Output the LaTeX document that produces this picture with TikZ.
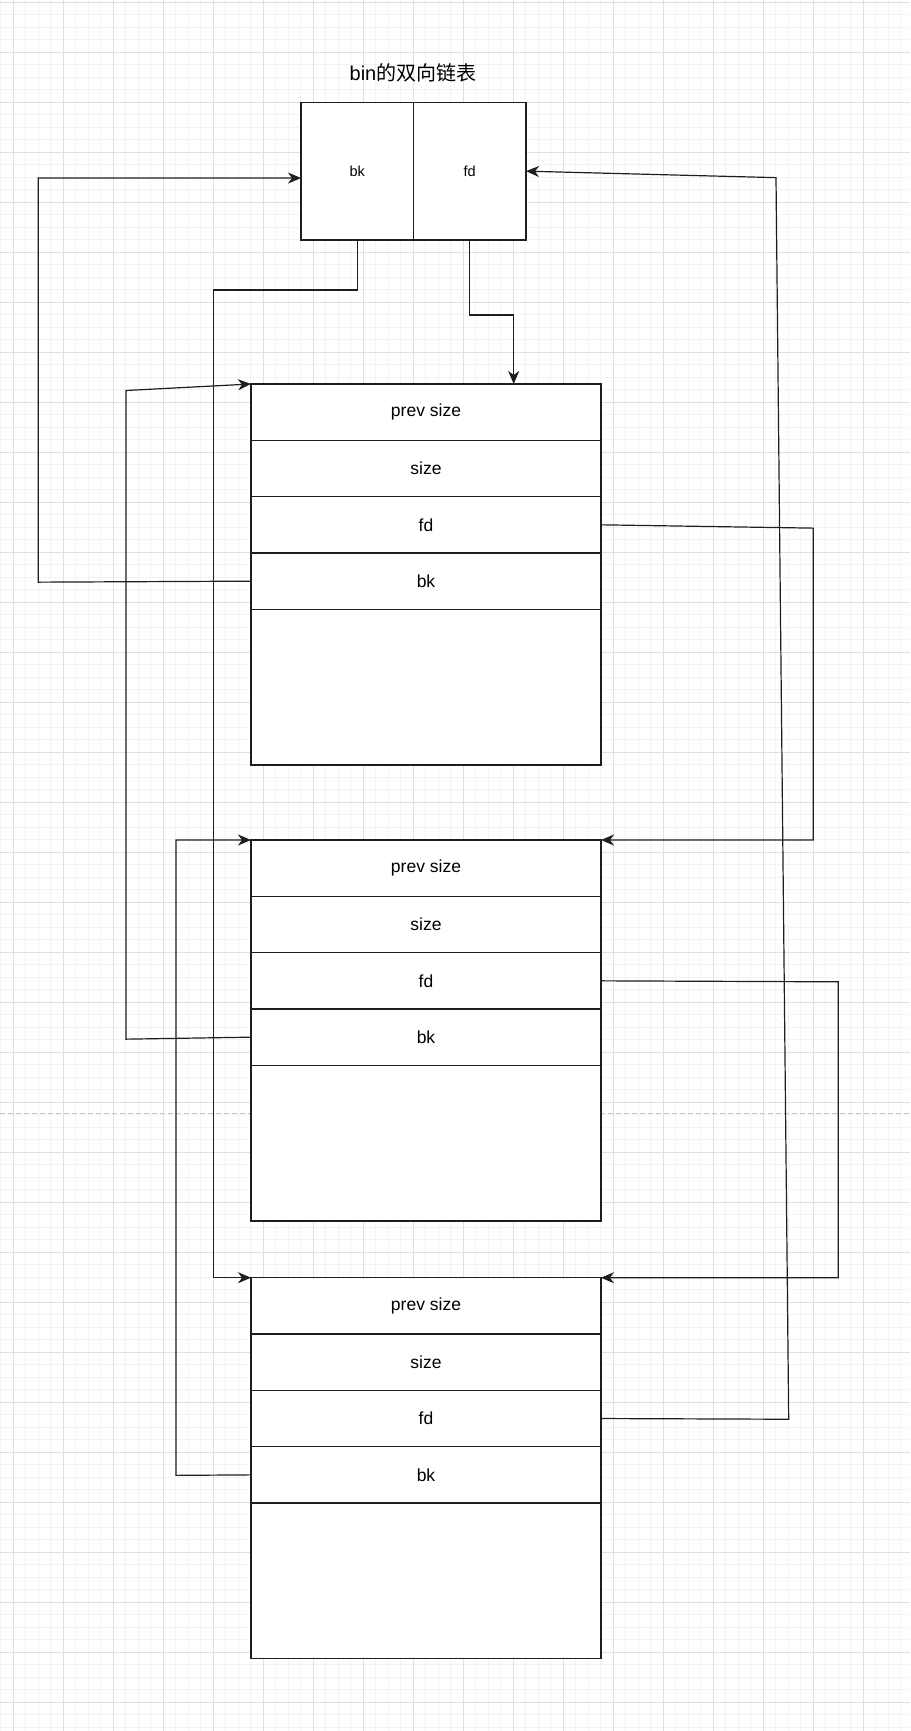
\documentclass[tikz,border=0pt]{standalone}
\usepackage{fontspec}
\setmainfont{Liberation Sans}
\newfontfamily\cjkfont{Noto Sans CJK SC}
\usetikzlibrary{arrows.meta, positioning}

\begin{document}
\begin{tikzpicture}[x=1pt, y=-1pt,
    field/.style={draw=lineColour, fill=white, line width=1.2pt, outer sep=0pt, inner sep=0pt,
        minimum width=350pt, minimum height=56.33pt, font=\fontsize{17.5}{21}\selectfont},
    chunkbody/.style={field, minimum height=155.7pt},
    binfield/.style={field, minimum width=112.5pt, minimum height=137.7pt, font=\fontsize{14.5}{17}\selectfont},
    link/.style={draw=lineColour, line width=1.2pt, -{Stealth[length=13pt,width=11pt,inset=4pt]}}]
    % Define colours
    \definecolor{lineColour}{HTML}{1E1E1E}
    \definecolor{minorGrid}{HTML}{F3F3F3}
    \definecolor{majorGrid}{HTML}{E0E0E0}
    \definecolor{pageBreak}{HTML}{C8C8C8}

    % Define page size
    \def\pageW{910}
    \def\pageH{1731}
    \useasboundingbox (0,0) rectangle (\pageW,\pageH);

    % Draw grid
    \foreach \x in {0.8,13.3,...,\pageW}
        \draw[minorGrid, line width=1pt] (\x,0) -- (\x,\pageH);
    \foreach \y in {2.3,14.8,...,\pageH}
        \draw[minorGrid, line width=1pt] (0,\y) -- (\pageW,\y);
    \foreach \x in {13.3,63.3,...,\pageW}
        \draw[majorGrid, line width=1pt] (\x,0) -- (\x,\pageH);
    \foreach \y in {2.3,52.3,...,\pageH}
        \draw[majorGrid, line width=1pt] (0,\y) -- (\pageW,\y);

    % Draw page break
    \draw[pageBreak, line width=1pt, dash pattern=on 5pt off 3pt] (0,1113.7) -- (\pageW,1113.7);

    % Title and bin
    \node (title) at (413,73) {\fontsize{20}{24}\selectfont bin\cjkfont 的双向链表};
    \node[binfield, anchor=north west] (binbk) at (301,102.3) {bk};
    \node[binfield, right=0pt of binbk] (binfd) {fd};

    % Draw the three chunks
    \foreach \c/\top in {1/384, 2/840, 3/1277.7} {
        \node[field, anchor=north west] (c\c prev) at (251,\top) {prev size};
        \node[field, below=0pt of c\c prev] (c\c size) {size};
        \node[field, below=0pt of c\c size] (c\c fd) {fd};
        \node[field, below=0pt of c\c fd] (c\c bk) {bk};
        \node[chunkbody, below=0pt of c\c bk] (c\c body) {};
    }

    % Links from the bin
    \draw[link] (binbk.south) -- ++(0,50) -| ([xshift=-37.3pt]c3prev.north west) -- (c3prev.north west);
    \draw[link] (binfd.south) -- ++(0,75) -| ([xshift=262.7pt]c1prev.north west);

    % fd links
    \draw[link] (c1fd.east) -- ++(212.3,3.3) |- (c2prev.north east);
    \draw[link] (c2fd.east) -- ++(237.3,1) |- (c3prev.north east);
    \draw[link] (c3fd.east) -- ++(187.7,0.7) -- ([xshift=250pt,yshift=-6.5pt]binfd.east) -- (binfd.east);

    % bk links
    \draw[link] (c1bk.west) -- ++(-212.7,1) |- ([yshift=-6.9pt]binbk.west);
    \draw[link] (c2bk.west) -- ++(-125,2) -- ([xshift=-125pt,yshift=-6.5pt]c1prev.north west) -- (c1prev.north west);
    \draw[link] (c3bk.west) -- ++(-75,0.5) |- (c2prev.north west);
\end{tikzpicture}
\end{document}
